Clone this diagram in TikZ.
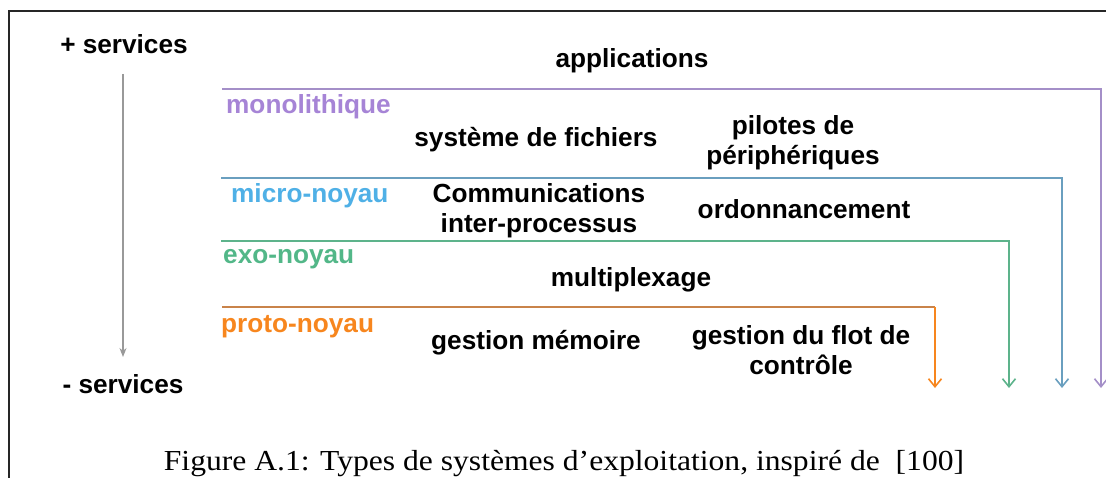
\documentclass[tikz,border=0pt]{standalone}
\usepackage{fontspec}
\setmainfont{Liberation Serif}
\newfontfamily\diagfont{Liberation Sans}
\newfontfamily\capfont[FakeStretch=1.09]{Liberation Serif}
\usetikzlibrary{arrows.meta}
\definecolor{purpT}{HTML}{A684D6}
\definecolor{purpL}{HTML}{A48FC8}
\definecolor{blueT}{HTML}{4FB0E6}
\definecolor{blueL}{HTML}{6A9FBF}
\definecolor{greenT}{HTML}{52B788}
\definecolor{greenL}{HTML}{5DB38B}
\definecolor{orangeT}{HTML}{F7861E}
\definecolor{orangeL}{HTML}{C9834A}
\definecolor{grayA}{HTML}{999999}
\tikzset{
  lbl/.style={font=\diagfont\bfseries\fontsize{26.2}{30}\selectfont, inner sep=0pt, align=center, yshift=-2.5pt},
  kind/.style={lbl, anchor=west},
  layer/.style={line width=1.6pt, -{Straight Barb[length=8pt,width=13pt,line width=1.6pt]}},
  hline/.style={line width=1.6pt},
}
\begin{document}
\begin{tikzpicture}[x=1pt,y=-1pt]
\useasboundingbox (0,0) rectangle (1106,478);
% frame
\draw[line width=1.2pt, black!85] (1106,11) -- (9,11) -- (9,478);
% side axis
\node[lbl] (plus) at (124,42) {+ services};
\node[lbl] (minus) at (123,382) {- services};
\coordinate (gtop) at (123,74);
\coordinate (gbot) at (123,357);
\draw[grayA, line width=1.2pt, -{Stealth[length=9pt,width=7pt]}] (gtop) -- (gbot);
% texts
\node[lbl] (app) at (632,58) {applications};
\node[kind, text=purpT] (mono) at (226,104) {monolithique};
\node[lbl] (sf) at (536,137) {système de fichiers};
\node[lbl] (pil) at (793,140) {pilotes de\\périphériques};
\node[kind, text=blueT] (micro) at (231,193) {micro-noyau};
\node[lbl] (ipc) at (539,208) {Communications\\inter-processus};
\node[lbl] (ord) at (804,207) {ordonnancement};
\node[kind, text=greenT] (exo) at (223,257) {exo-noyau};
\node[lbl] (mux) at (631,277) {multiplexage};
\node[kind, text=orangeT] (proto) at (221,324) {proto-noyau};
\node[lbl] (mem) at (536,340) {gestion mémoire};
\node[lbl] (flot) at (801,348) {gestion du flot de\\contrôle};
% layer lines
\coordinate (p0) at (222,89);  \coordinate (p1) at (1101,89);  \coordinate (p2) at (1101,388);
\coordinate (b0) at (221,178); \coordinate (b1) at (1062,178); \coordinate (b2) at (1062,388);
\coordinate (g0) at (221,241); \coordinate (g1) at (1009,241); \coordinate (g2) at (1009,388);
\coordinate (o0) at (222,307); \coordinate (o1) at (935,307);  \coordinate (o2) at (935,388);
\draw[layer, purpL] (p0) -- (p1) -- (p2);
\draw[layer, blueL] (b0) -- (b1) -- (b2);
\draw[layer, greenL] (g0) -- (g1) -- (g2);
\draw[hline, orangeL] (o0) -- (o1);
\draw[layer, orangeT] (o1) -- (o2);
% caption
\node[inner sep=0pt, font=\capfont\fontsize{29}{32}\selectfont] (cap) at (564,464) {Figure A.1: Types de systèmes d’exploitation, inspiré de~ [100]};
\end{tikzpicture}
\end{document}
